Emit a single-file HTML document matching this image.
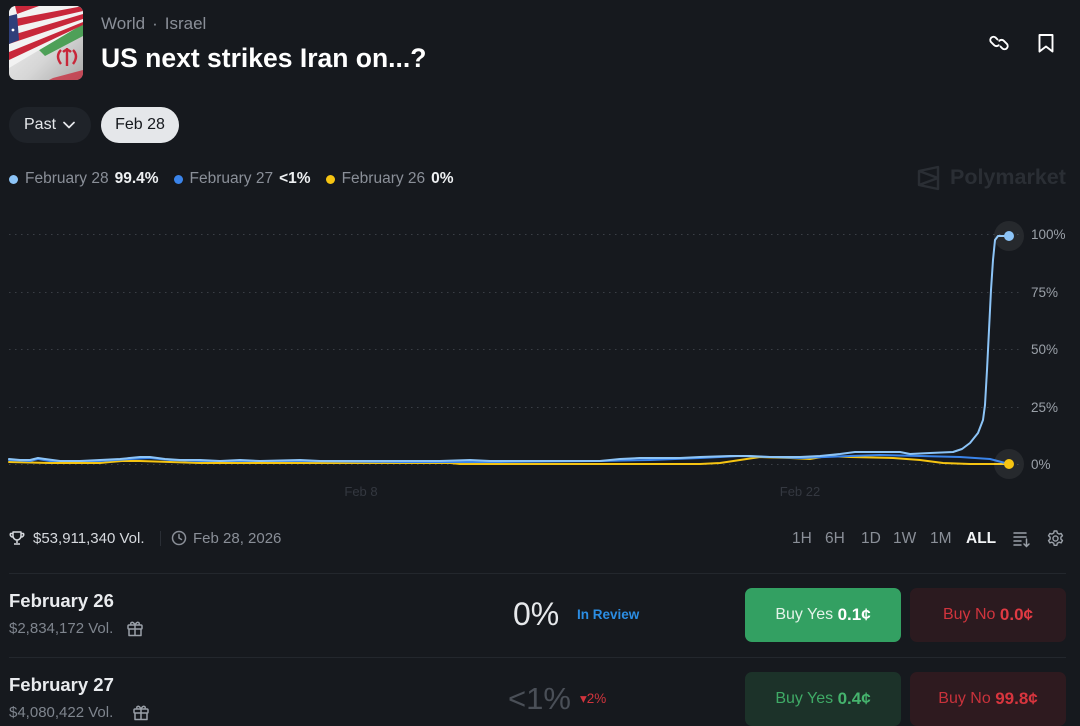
<!DOCTYPE html>
<html><head><meta charset="utf-8">
<style>
*{margin:0;padding:0;box-sizing:border-box}
html,body{width:1080px;height:720px;overflow:hidden;background:#16191e;font-family:"Liberation Sans",Arial,sans-serif;color:#e6e8eb}
.a{position:absolute;white-space:nowrap}
.btn{position:absolute;border-radius:7px;display:flex;align-items:center;justify-content:center;font-size:16px}
</style></head><body>

<!-- flag image -->
<svg class="a" style="left:9px;top:6px" width="74" height="74" viewBox="0 0 74 74">
<defs><clipPath id="cp"><rect width="74" height="74" rx="7"/></clipPath>
<linearGradient id="wg" x1="0" y1="0" x2="1" y2="1"><stop offset="0" stop-color="#f4f4f4"/><stop offset="0.6" stop-color="#d6d6d6"/><stop offset="1" stop-color="#a9a9a9"/></linearGradient></defs>
<g clip-path="url(#cp)">
<rect width="74" height="74" fill="url(#wg)"/>
<path d="M30 44 L74 18 L74 30 L36 50 Z" fill="#3f9a4a" opacity="0.9"/>
<path d="M0 0 L74 0 L74 18 L0 62 Z" fill="#f2f2f2"/>
<path d="M6 0 L30 0 L8 8 Z" fill="#c8273a"/>
<path d="M0 14 L74 0 L74 5 L0 22 Z" fill="#c8273a"/>
<path d="M0 30 L74 8 L74 13 L0 38 Z" fill="#c8273a"/>
<path d="M0 46 L74 16 L74 19 L0 54 Z" fill="#c8273a"/>
<path d="M0 10 L8 8 L10 34 L0 38 Z" fill="#2f3f7a"/>
<circle cx="4" cy="24" r="1.4" fill="#fff"/>
<path d="M52 44 q-6 6 0 14 M64 44 q6 6 0 14 M58 42 v18 M54 46 q4 -4 8 0" stroke="#c8273a" stroke-width="2.4" fill="none"/>
<path d="M44 72 L74 64 L74 74 L40 74 Z" fill="#c8273a" opacity="0.75"/>
</g></svg>

<div class="a" style="left:101px;top:14px;font-size:17px;color:#8a8f98">World<span style="margin:0 7px">·</span>Israel</div>
<div class="a" style="left:101px;top:43px;font-size:26.5px;font-weight:bold;color:#fff">US next strikes Iran on...?</div>

<!-- top icons -->
<svg class="a" style="left:986px;top:30px" width="26" height="26" viewBox="0 0 26 26" fill="none" stroke="#fff" stroke-width="1.9" stroke-linecap="round">
<path d="M11.5 9.5 L9.5 7.5 a3.2 3.2 0 0 0 -4.5 4.5 l3.2 3.2 a3.2 3.2 0 0 0 4.5 0"/>
<path d="M14.5 16.5 L16.5 18.5 a3.2 3.2 0 0 0 4.5 -4.5 l-3.2 -3.2 a3.2 3.2 0 0 0 -4.5 0"/>
</svg>
<svg class="a" style="left:1034px;top:31px" width="24" height="24" viewBox="0 0 24 24" fill="none" stroke="#fff" stroke-width="1.9" stroke-linejoin="round">
<path d="M5.5 4 H18.5 V20.5 L12 15.5 L5.5 20.5 Z"/>
</svg>

<!-- pills -->
<div class="a" style="left:9px;top:107px;width:82px;height:36px;border-radius:18px;background:#1f2329"></div>
<div class="a" style="left:24px;top:116px;font-size:16px;color:#e6e8eb">Past</div>
<svg class="a" style="left:62px;top:119px" width="14" height="12" viewBox="0 0 14 12"><path d="M2 3.5 L7 8.5 L12 3.5" stroke="#e6e8eb" stroke-width="1.7" fill="none" stroke-linecap="round" stroke-linejoin="round"/></svg>
<div class="a" style="left:101px;top:107px;width:78px;height:36px;border-radius:18px;background:#e5e7ea;color:#16191e;font-size:16px;display:flex;align-items:center;justify-content:center">Feb 28</div>

<!-- legend -->
<div class="a" style="left:9px;top:170px;font-size:15.5px;color:#8a8f98;display:flex;align-items:center">
<span style="width:9px;height:9px;border-radius:50%;background:#8cc4f7;display:inline-block;margin-right:7px;margin-left:0px"></span>February 28<b style="color:#eef0f2;margin-left:6px">99.4%</b>
<span style="width:9px;height:9px;border-radius:50%;background:#3a84ea;display:inline-block;margin-right:7px;margin-left:15px"></span>February 27<b style="color:#eef0f2;margin-left:6px">&lt;1%</b>
<span style="width:9px;height:9px;border-radius:50%;background:#f6c412;display:inline-block;margin-right:7px;margin-left:15px"></span>February 26<b style="color:#eef0f2;margin-left:6px">0%</b>
</div>

<!-- watermark -->
<svg class="a" style="left:916px;top:165px" width="26" height="26" viewBox="0 0 26 26" fill="none" stroke="#2a2e34" stroke-width="2.4" stroke-linejoin="round">
<path d="M3 6 L22 2 V24 L3 20 Z M3 6 L22 13 L3 20"/>
</svg>
<div class="a" style="left:950px;top:165px;font-size:21.5px;font-weight:bold;color:#2a2e34">Polymarket</div>

<!-- chart -->
<svg class="a" style="left:0;top:0" width="1080" height="520" viewBox="0 0 1080 520">
<g stroke="#3a3e45" stroke-width="1" stroke-dasharray="1.5 4.5">
<line x1="9" y1="234.5" x2="1020" y2="234.5"/>
<line x1="9" y1="292.5" x2="1020" y2="292.5"/>
<line x1="9" y1="349.5" x2="1020" y2="349.5"/>
<line x1="9" y1="407.5" x2="1020" y2="407.5"/>
<line x1="9" y1="464.5" x2="1020" y2="464.5"/>
</g>
<g font-family="Liberation Sans,Arial,sans-serif" font-size="13.5" fill="#9aa0a8">
<text x="1031" y="239">100%</text>
<text x="1031" y="297">75%</text>
<text x="1031" y="354">50%</text>
<text x="1031" y="412">25%</text>
<text x="1031" y="469">0%</text>
</g>
<g font-family="Liberation Sans,Arial,sans-serif" font-size="13" fill="#343840" text-anchor="middle">
<text x="361" y="496">Feb 8</text>
<text x="800" y="496">Feb 22</text>
</g>
<g fill="none" stroke-width="2" stroke-linejoin="round" stroke-linecap="round">
<polyline stroke="#f6c412" points="9,462 50,463 100,463 110,462 122,461 140,461 170,462 200,463 300,463 400,463 450,463 460,464 500,464 600,464 700,464 720,463 740,460 760,457 790,458 810,459 827,456 850,457 893,458 920,460 943,463 970,464 1009,464"/>
<polyline stroke="#3a84ea" points="9,460 30,461 38,459 50,461 100,461 130,459 150,458 170,460 200,461 300,461 400,462 500,462 600,461 650,460 700,458 740,456 770,457 800,458 850,456 880,455 920,456 960,457 990,459 1009,464"/>
<polyline stroke="#8cc4f7" points="9,459 20,460 30,460 38,458 45,459 60,461 80,461 100,460 120,459 140,457 150,457 165,459 180,460 200,460 220,461 240,460 260,461 300,460 320,461 400,461 440,461 470,460 490,461 600,461 620,459 640,458 680,458 700,457 730,456 750,456 770,457 800,457 820,456 840,454 855,452 880,452 900,452 910,454 930,453 953,452 962,449 970,443 978,433 983,420 985,405 987,370 989,330 991,290 993,260 995,240 998,236 1009,236"/>
</g>
<circle cx="1009" cy="236" r="15" fill="#ffffff" opacity="0.07"/>
<circle cx="1009" cy="236" r="5" fill="#8cc4f7"/>
<circle cx="1009" cy="464" r="15" fill="#ffffff" opacity="0.07"/>
<circle cx="1009" cy="464" r="5" fill="#f6c412"/>
</svg>

<!-- stats row -->
<svg class="a" style="left:9px;top:530px" width="16" height="16" viewBox="0 0 16 16" fill="none" stroke="#d6d9de" stroke-width="1.5" stroke-linejoin="round">
<path d="M4 2 H12 V6 a4 4 0 0 1 -8 0 Z M4 3.5 H1.5 a2.5 2.5 0 0 0 2.7 3.5 M12 3.5 H14.5 a2.5 2.5 0 0 1 -2.7 3.5 M8 10 V13 M5 14 H11"/>
</svg>
<div class="a" style="left:33px;top:530px;font-size:15px;color:#d6d9de">$53,911,340 Vol.</div>
<div class="a" style="left:160px;top:531px;width:1px;height:15px;background:#2a2e35"></div>
<svg class="a" style="left:171px;top:530px" width="16" height="16" viewBox="0 0 16 16" fill="none" stroke="#8a8f98" stroke-width="1.5" stroke-linecap="round">
<circle cx="8" cy="8" r="6.5"/><path d="M8 4.5 V8 L10.5 9.5"/>
</svg>
<div class="a" style="left:193px;top:530px;font-size:15px;color:#8a8f98">Feb 28, 2026</div>

<div class="a" style="left:792px;top:530px;font-size:15.5px;color:#8a8f98">1H</div>
<div class="a" style="left:825px;top:530px;font-size:15.5px;color:#8a8f98">6H</div>
<div class="a" style="left:861px;top:530px;font-size:15.5px;color:#8a8f98">1D</div>
<div class="a" style="left:893px;top:530px;font-size:15.5px;color:#8a8f98">1W</div>
<div class="a" style="left:930px;top:530px;font-size:15.5px;color:#8a8f98">1M</div>
<div class="a" style="left:966px;top:530px;font-size:15.5px;font-weight:bold;color:#f2f4f6">ALL</div>
<svg class="a" style="left:1012px;top:529px" width="20" height="20" viewBox="0 0 20 20" fill="none" stroke="#9aa0a8" stroke-width="1.5" stroke-linecap="round">
<path d="M2 4 H14 M2 8 H14 M2 12 H9 M2 16 H9 M14.5 10 V17.5 M12 15 L14.5 17.5 L17 15"/>
</svg>
<svg class="a" style="left:1046px;top:529px" width="19" height="19" viewBox="0 0 24 24" fill="none" stroke="#9aa0a8" stroke-width="1.8" stroke-linejoin="round">
<circle cx="12" cy="12" r="3.2"/>
<path d="M10.3 2.5 h3.4 l0.6 2.6 l2.2 1.3 l2.6 -0.8 l1.7 2.9 l-2 1.8 v2.5 l2 1.8 l-1.7 2.9 l-2.6 -0.8 l-2.2 1.3 l-0.6 2.6 h-3.4 l-0.6 -2.6 l-2.2 -1.3 l-2.6 0.8 l-1.7 -2.9 l2 -1.8 v-2.5 l-2 -1.8 l1.7 -2.9 l2.6 0.8 l2.2 -1.3 Z"/>
</svg>

<div class="a" style="left:9px;top:573px;width:1057px;height:1px;background:#23272d"></div>

<!-- row 1 -->
<div class="a" style="left:9px;top:590px;font-size:18.5px;font-weight:bold;color:#e9ebee">February 26</div>
<div class="a" style="left:9px;top:620px;font-size:15px;color:#7f858e">$2,834,172 Vol.</div>
<svg class="a" style="left:126px;top:620px" width="18" height="17" viewBox="0 0 18 17" fill="none" stroke="#9aa0a8" stroke-width="1.5" stroke-linejoin="round">
<rect x="2" y="5" width="14" height="4" rx="1"/><path d="M3 9 V15.5 H15 V9 M9 5 V15.5 M9 5 C7 1 4 2 5 4.5 M9 5 C11 1 14 2 13 4.5"/>
</svg>
<div class="a" style="left:513px;top:596px;font-size:32px;color:#e6e8eb">0%</div>
<div class="a" style="left:577px;top:607px;font-size:13.5px;font-weight:bold;color:#2b8de3">In Review</div>
<div class="btn" style="left:745px;top:588px;width:156px;height:54px;background:#33a062;color:#e4f3e9">Buy Yes&nbsp;<b style="font-size:17px;color:#fff">0.1¢</b></div>
<div class="btn" style="left:910px;top:588px;width:156px;height:54px;background:#2b1a1f;color:#d0343d">Buy No&nbsp;<b style="font-size:17px;color:#e03a43">0.0¢</b></div>

<div class="a" style="left:9px;top:657px;width:1057px;height:1px;background:#23272d"></div>

<!-- row 2 -->
<div class="a" style="left:9px;top:674px;font-size:18.5px;font-weight:bold;color:#e9ebee">February 27</div>
<div class="a" style="left:9px;top:704px;font-size:15px;color:#7f858e">$4,080,422 Vol.</div>
<svg class="a" style="left:132px;top:704px" width="18" height="17" viewBox="0 0 18 17" fill="none" stroke="#9aa0a8" stroke-width="1.5" stroke-linejoin="round">
<rect x="2" y="5" width="14" height="4" rx="1"/><path d="M3 9 V15.5 H15 V9 M9 5 V15.5 M9 5 C7 1 4 2 5 4.5 M9 5 C11 1 14 2 13 4.5"/>
</svg>
<div class="a" style="left:508px;top:681px;font-size:31px;color:#4a4f57">&lt;1%</div>
<div class="a" style="left:580px;top:691px;font-size:13.5px;color:#d0343d">▾2%</div>
<div class="btn" style="left:745px;top:672px;width:156px;height:54px;background:#1c3229;color:#3faa66">Buy Yes&nbsp;<b style="font-size:17px;color:#45b36d">0.4¢</b></div>
<div class="btn" style="left:910px;top:672px;width:156px;height:54px;background:#2e1a1f;color:#c8323b">Buy No&nbsp;<b style="font-size:17px;color:#d8353e">99.8¢</b></div>

</body></html>
